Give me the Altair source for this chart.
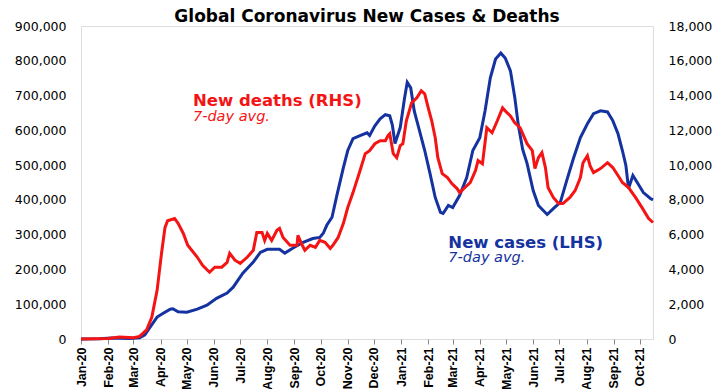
import altair as alt
import pandas as pd

# ---- data ----
case_dates = [
    "2020-01-01", "2020-01-22", "2020-02-05", "2020-02-15", "2020-02-25", "2020-03-08",
    "2020-03-14", "2020-03-20", "2020-03-28", "2020-04-04", "2020-04-12", "2020-04-15",
    "2020-04-21", "2020-05-01", "2020-05-13", "2020-05-24", "2020-06-04", "2020-06-16",
    "2020-06-23", "2020-07-04", "2020-07-16", "2020-07-24", "2020-08-01", "2020-08-15",
    "2020-08-21", "2020-08-30", "2020-09-11", "2020-09-22", "2020-09-30", "2020-10-04",
    "2020-10-08", "2020-10-14", "2020-10-20", "2020-10-27", "2020-11-01", "2020-11-07",
    "2020-11-15", "2020-11-23", "2020-11-26", "2020-12-02", "2020-12-08", "2020-12-14",
    "2020-12-19", "2020-12-22", "2020-12-25", "2020-12-31", "2021-01-05", "2021-01-08",
    "2021-01-12", "2021-01-16", "2021-01-22", "2021-01-28", "2021-02-03", "2021-02-09",
    "2021-02-15", "2021-02-18", "2021-02-24", "2021-03-01", "2021-03-09", "2021-03-17",
    "2021-03-24", "2021-04-01", "2021-04-07", "2021-04-13", "2021-04-19", "2021-04-25",
    "2021-04-30", "2021-05-06", "2021-05-11", "2021-05-15", "2021-05-20", "2021-05-25",
    "2021-06-01", "2021-06-07", "2021-06-17", "2021-06-24", "2021-07-02", "2021-07-10",
    "2021-07-17", "2021-07-25", "2021-08-02", "2021-08-09", "2021-08-17", "2021-08-25",
    "2021-08-31", "2021-09-06", "2021-09-11", "2021-09-15", "2021-09-18", "2021-09-23",
    "2021-09-28", "2021-10-05", "2021-10-13", "2021-10-16",
]
case_values = [
    0, 500, 3000, 2500, 1200, 3500,
    12000, 34000, 63000, 74000, 86000, 87000,
    78000, 77000, 86000, 97000, 117000, 132000,
    149000, 189000, 221000, 249000, 258000, 258000,
    247000, 261000, 278000, 289000, 292000, 304000,
    327000, 350000, 418000, 493000, 542000, 576000,
    585000, 593000, 585000, 613000, 633000, 645000,
    642000, 615000, 562000, 608000, 694000, 738000,
    722000, 656000, 599000, 542000, 476000, 407000,
    364000, 361000, 384000, 378000, 413000, 464000,
    542000, 579000, 656000, 751000, 805000, 822000,
    808000, 771000, 694000, 615000, 545000, 505000,
    427000, 384000, 358000, 375000, 393000, 461000,
    519000, 579000, 619000, 648000, 656000, 653000,
    628000, 590000, 542000, 499000, 433000, 470000,
    450000, 421000, 404000, 400000,
]

death_dates = [
    "2020-01-01", "2020-02-01", "2020-02-14", "2020-03-01", "2020-03-08", "2020-03-16",
    "2020-03-22", "2020-03-28", "2020-04-02", "2020-04-06", "2020-04-09", "2020-04-17",
    "2020-04-21", "2020-04-27", "2020-05-02", "2020-05-13", "2020-05-19", "2020-05-27",
    "2020-06-02", "2020-06-10", "2020-06-16", "2020-06-19", "2020-06-25", "2020-07-01",
    "2020-07-09", "2020-07-16", "2020-07-20", "2020-07-26", "2020-07-29", "2020-08-01",
    "2020-08-06", "2020-08-12", "2020-08-15", "2020-08-19", "2020-08-27", "2020-09-04",
    "2020-09-05", "2020-09-10", "2020-09-13", "2020-09-19", "2020-09-25", "2020-09-30",
    "2020-10-06", "2020-10-12", "2020-10-15", "2020-10-21", "2020-10-27", "2020-11-01",
    "2020-11-07", "2020-11-15", "2020-11-21", "2020-11-26", "2020-12-02", "2020-12-08",
    "2020-12-14", "2020-12-17", "2020-12-19", "2020-12-23", "2020-12-27", "2020-12-31",
    "2021-01-03", "2021-01-07", "2021-01-13", "2021-01-19", "2021-01-24", "2021-01-28",
    "2021-02-01", "2021-02-05", "2021-02-09", "2021-02-12", "2021-02-17", "2021-02-23",
    "2021-02-28", "2021-03-06", "2021-03-09", "2021-03-15", "2021-03-21", "2021-03-27",
    "2021-03-30", "2021-04-04", "2021-04-09", "2021-04-15", "2021-04-21", "2021-04-27",
    "2021-04-30", "2021-05-06", "2021-05-11", "2021-05-17", "2021-05-25", "2021-05-31",
    "2021-06-03", "2021-06-07", "2021-06-11", "2021-06-15", "2021-06-18", "2021-06-24",
    "2021-06-30", "2021-07-05", "2021-07-13", "2021-07-19", "2021-07-25", "2021-07-28",
    "2021-08-02", "2021-08-05", "2021-08-09", "2021-08-17", "2021-08-25", "2021-08-31",
    "2021-09-06", "2021-09-11", "2021-09-18", "2021-09-26", "2021-10-04", "2021-10-11",
    "2021-10-16",
]
death_values = [
    0, 30, 110, 70, 150, 520,
    1260, 2800, 4900, 6400, 6800, 6930,
    6650, 6070, 5390, 4700, 4240, 3840,
    4130, 4130, 4410, 4930, 4530, 4350,
    4700, 5100, 6130, 6130, 5670, 6070,
    5670, 6250, 6360, 5840, 5390, 5390,
    5960, 5390, 5100, 5390, 5270, 5670,
    5560, 5210, 5390, 5840, 6650, 7560,
    8420, 9680, 10660, 10830, 11230, 11400,
    11400, 11690, 11800, 10660, 10430, 11120,
    11230, 12550, 13580, 13870, 14270, 14100,
    13290, 12550, 11570, 10430, 9510, 9280,
    8940, 8650, 8420, 8710, 9000, 9680,
    10260, 10080, 12150, 11860, 12550, 13290,
    13120, 12830, 12430, 12150, 11230, 10830,
    9800, 10430, 10720, 9860, 8710, 8140,
    7790, 7790, 8140, 8540, 9280, 10140,
    10540, 9970, 9570, 9800, 10140, 9860,
    9400, 9000, 8710, 8140, 7510, 6930,
    6700,
]

left_ticks = [0, 100000, 200000, 300000, 400000, 500000, 600000, 700000, 800000, 900000]
right_ticks = [0, 2000, 4000, 6000, 8000, 10000, 12000, 14000, 16000, 18000]

# annotations: text, anchor date, value on the left (cases) scale
note_texts = ["New deaths (RHS)", "7-day avg.", "New cases (LHS)", "7-day avg."]
note_dates = ["2020-05-08", "2020-05-08", "2021-02-24", "2021-02-24"]
note_values = [670000, 627000, 262000, 221000]
note_colors = ["#f41414", "#f41414", "#1432a0", "#1432a0"]
note_weights = ["bold", "normal", "bold", "normal"]
note_styles = ["normal", "italic", "normal", "italic"]
note_sizes = [16.5, 14.5, 16.5, 14.5]

RED = "#f41414"
BLUE = "#1432a0"

cases_df = pd.DataFrame({"date": case_dates, "cases": case_values})
deaths_df = pd.DataFrame({"date": death_dates, "deaths": death_values})

x_scale = alt.Scale(
    type="utc",
    domain=[alt.DateTime(year=2020, month=1, date=1, utc=True),
            alt.DateTime(year=2021, month=10, date=16, utc=True)],
)
x_enc = alt.X(
    "date:T",
    scale=x_scale,
    axis=alt.Axis(
        title=None, format="%b-%y", tickCount={"interval": "month", "step": 1},
        labelAngle=270, labelFont="Liberation Sans", labelFontWeight="bold",
        labelFontSize=12.5, labelColor="#000000", labelPadding=3,
        tickSize=5, tickColor="#8a8a8a", domain=False, grid=False,
        labelOverlap=False, labelFlush=False,
    ),
)

cases_line = alt.Chart(cases_df).mark_line(color=BLUE, strokeWidth=3).encode(
    x=x_enc,
    y=alt.Y("cases:Q", scale=alt.Scale(domain=[0, 900000], nice=False, zero=True),
            axis=alt.Axis(title=None, orient="left", values=left_ticks, format=",d",
                          labelFont="DejaVu Sans", labelFontSize=12.5, labelColor="#000000",
                          ticks=False, domain=False, grid=False, labelPadding=15)),
)

deaths_line = alt.Chart(deaths_df).mark_line(color=RED, strokeWidth=3).encode(
    x=alt.X("date:T", scale=x_scale),
    y=alt.Y("deaths:Q", scale=alt.Scale(domain=[0, 18000], nice=False, zero=True),
            axis=alt.Axis(title=None, orient="right", values=right_ticks, format=",d",
                          labelFont="DejaVu Sans", labelFontSize=12.5, labelColor="#000000",
                          ticks=False, domain=False, grid=False, labelPadding=15)),
)

note_layers = []
for t, d, v, c, w, s, fs in zip(note_texts, note_dates, note_values, note_colors,
                                note_weights, note_styles, note_sizes):
    df = pd.DataFrame({"date": [d], "value": [v], "label": [t]})
    note_layers.append(
        alt.Chart(df).mark_text(
            align="left", baseline="alphabetic", color=c, font="DejaVu Sans",
            fontWeight=w, fontStyle=s, fontSize=fs,
        ).encode(
            x=alt.X("date:T", scale=x_scale),
            y=alt.Y("value:Q", scale=alt.Scale(domain=[0, 900000], nice=False), axis=None),
            text="label:N",
        )
    )

chart = alt.layer(cases_line, deaths_line, *note_layers).resolve_scale(
    y="independent"
).properties(
    width=572,
    height=313,
    title=alt.TitleParams(
        "Global Coronavirus New Cases & Deaths", font="DejaVu Sans", fontSize=17,
        fontWeight="bold", color="#000000", anchor="middle", offset=-6,
    ),
    autosize=alt.AutoSizeParams(type="none"),
    padding={"left": 73, "top": 18, "right": 59, "bottom": 50},
).configure_view(
    stroke="#8a8a8a", strokeWidth=1.5
).configure(background="#ffffff")

chart.save("out.html", embed_options={"renderer": "svg", "actions": False})
